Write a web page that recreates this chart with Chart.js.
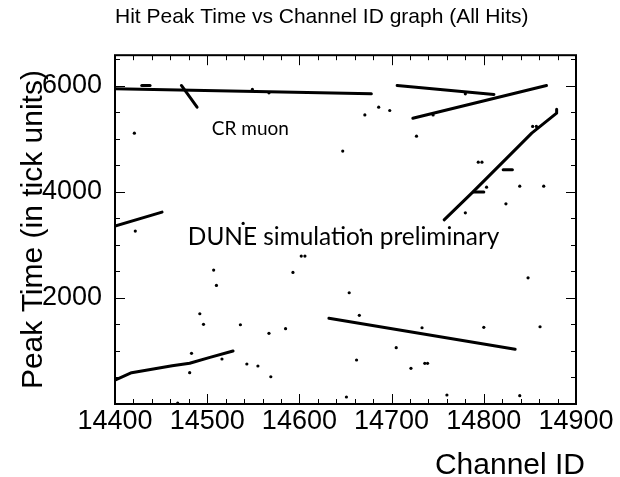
<!DOCTYPE html>
<html><head><meta charset="utf-8">
<script src="https://cdn.jsdelivr.net/npm/chart.js@4/dist/chart.umd.min.js"></script>
<style>html,body{margin:0;padding:0;background:#fff;overflow:hidden;}</style>
</head><body>
<canvas id="c" width="620" height="477"></canvas>
<script>
// ---- text ----
const chartTitle = 'Hit Peak Time vs Channel ID graph (All Hits)';
const xAxisTitle = 'Channel ID';
const yAxisTitle = 'Peak Time (in tick units)';
// ---- axes ----
const xTickLabels = [14400, 14500, 14600, 14700, 14800, 14900];
const yTickLabels = [2000, 4000, 6000];
const xRange = [14400, 14900];
const yRange = [0, 6575];
const xMinorStep = 20;
const yMinorStep = 500;
// ---- reconstructed tracks (channel, peak time) ----
const trackTopLong   = [[14400, 5944], [14678, 5846]];
const trackTopDash   = [[14429, 6004], [14438, 6004]];
const trackTopSteep  = [[14472, 6004], [14489, 5595]];
const trackTopRight  = [[14706, 6004], [14811, 5835]];
const trackRising    = [[14723, 5388], [14868, 6004]];
const trackDiagonal  = [[14757, 3472], [14788, 3994], [14826, 4653], [14852, 5106], [14879, 5482], [14879, 5558]];
const trackLeftShort = [[14400, 3352], [14451, 3617]];
const trackBottomLeft = [[14400, 452], [14418, 590], [14462, 722], [14481, 767], [14503, 880], [14528, 999]];
const trackLowerRight = [[14632, 1615], [14834, 1031]];
const shortDashA = [[14821, 4414], [14831, 4414]];
const shortDashB = [[14789, 3994], [14800, 3994]];
// ---- isolated hits ----
const isolatedHits = [
  [14421, 5106], [14647, 4767], [14671, 5450], [14686, 5595], [14698, 5533],
  [14727, 5049], [14780, 5846], [14745, 5450], [14853, 5232], [14857, 5232],
  [14794, 4559], [14798, 4559], [14803, 4088], [14839, 4107], [14865, 4107],
  [14824, 3774], [14780, 3604], [14422, 3259], [14539, 3404], [14667, 3278],
  [14507, 2525], [14510, 2236], [14492, 1701], [14496, 1502], [14536, 1494],
  [14567, 1332], [14585, 1419], [14593, 2481], [14602, 2788], [14606, 2788],
  [14654, 2097], [14665, 1671], [14662, 829], [14705, 1061], [14721, 673],
  [14736, 767], [14739, 767], [14733, 1437], [14800, 1445], [14848, 2379],
  [14861, 1456], [14651, 132], [14760, 170], [14839, 156], [14483, 955],
  [14481, 590], [14543, 754], [14555, 716], [14569, 514], [14516, 848],
  [14468, 15], [14549, 5929], [14567, 5865]
];
// ---- annotations (data-space anchors) ----
const annotationTexts = ['CR muon', 'DUNE simulation preliminary'];
const annotationX = [14505, 14479];
const annotationY = [5062, 3000];

const tracks = [trackTopLong, trackTopDash, trackTopSteep, trackTopRight, trackRising,
  trackDiagonal, trackLeftShort, trackBottomLeft, trackLowerRight, shortDashA, shortDashB];

const toPts = arr => arr.map(p => ({x: p[0], y: p[1]}));

const datasets = tracks.map(t => ({
  data: toPts(t), showLine: true, borderColor: '#000', backgroundColor: '#000',
  borderWidth: 3, pointRadius: 0, borderCapStyle: 'round', borderJoinStyle: 'round', tension: 0
}));
datasets.push({
  data: toPts(isolatedHits), showLine: false, pointRadius: 1.6, pointHoverRadius: 1.6,
  backgroundColor: '#000', borderColor: '#000', borderWidth: 0
});

const framePlugin = {
  id: 'frame',
  afterDatasetsDraw(chart) {
    const {ctx, chartArea: a, scales: {x, y}} = chart;
    ctx.save();
    ctx.strokeStyle = '#000';
    ctx.lineWidth = 1;
    ctx.beginPath();
    for (let v = xRange[0]; v <= xRange[1] + 1e-6; v += xMinorStep) {
      const px = Math.round(x.getPixelForValue(v)) + 0.5;
      const len = xTickLabels.includes(v) ? 10 : 5;
      ctx.moveTo(px, a.bottom); ctx.lineTo(px, a.bottom - len);
      ctx.moveTo(px, a.top); ctx.lineTo(px, a.top + len);
    }
    for (let v = yRange[0]; v <= yRange[1]; v += yMinorStep) {
      const py = Math.round(y.getPixelForValue(v)) + 0.5;
      const len = (v % 2000 === 0) ? 10 : 5;
      ctx.moveTo(a.left, py); ctx.lineTo(a.left + len, py);
      ctx.moveTo(a.right, py); ctx.lineTo(a.right - len, py);
    }
    ctx.stroke();
    ctx.lineWidth = 2;
    ctx.strokeRect(a.left, a.top, a.right - a.left, a.bottom - a.top);
    // annotations
    ctx.fillStyle = '#000';
    ctx.textAlign = 'left';
    ctx.textBaseline = 'alphabetic';
    const sizes = [19, 24.4];
    annotationTexts.forEach((t, i) => {
      ctx.font = sizes[i] + 'px Lato';
      ctx.fillText(t, x.getPixelForValue(annotationX[i]), y.getPixelForValue(annotationY[i]));
    });
    // x axis title
    ctx.font = '30px "Liberation Sans"';
    ctx.textAlign = 'right';
    ctx.fillText(xAxisTitle, a.right + 9, chart.height - 3);
    ctx.restore();
  }
};

new Chart(document.getElementById('c'), {
  type: 'scatter',
  data: {datasets},
  options: {
    responsive: false, animation: false, devicePixelRatio: 1,
    layout: {padding: {left: 0, right: 44, top: 0, bottom: 0}},
    plugins: {
      legend: {display: false}, tooltip: {enabled: false},
      title: {
        display: true, text: chartTitle, align: 'start', fullSize: false,
        color: '#000', font: {family: '"Liberation Sans"', size: 21, weight: 'normal'},
        padding: {top: 5, bottom: 25}
      }
    },
    scales: {
      x: {
        type: 'linear', min: xRange[0], max: xRange[1],
        afterBuildTicks: s => { s.ticks = xTickLabels.map(v => ({value: v})); },
        afterFit: s => { s.height = 73; },
        grid: {display: false}, border: {display: false},
        ticks: {color: '#000', padding: -7, maxRotation: 0, autoSkip: false,
          font: {family: '"Liberation Sans"', size: 27}, callback: v => String(v)}
      },
      y: {
        type: 'linear', min: yRange[0], max: yRange[1],
        afterBuildTicks: s => { s.ticks = yTickLabels.map(v => ({value: v})); },
        afterFit: s => { s.width = 115; },
        grid: {display: false}, border: {display: false},
        ticks: {color: '#000', padding: 5, autoSkip: false,
          font: {family: '"Liberation Sans"', size: 27}, callback: v => String(v)},
        title: {display: true, text: yAxisTitle, color: '#000',
          font: {family: '"Liberation Sans"', size: 30}, padding: {top: 16, bottom: 0}}
      }
    }
  },
  plugins: [framePlugin]
});
</script>
</body></html>
